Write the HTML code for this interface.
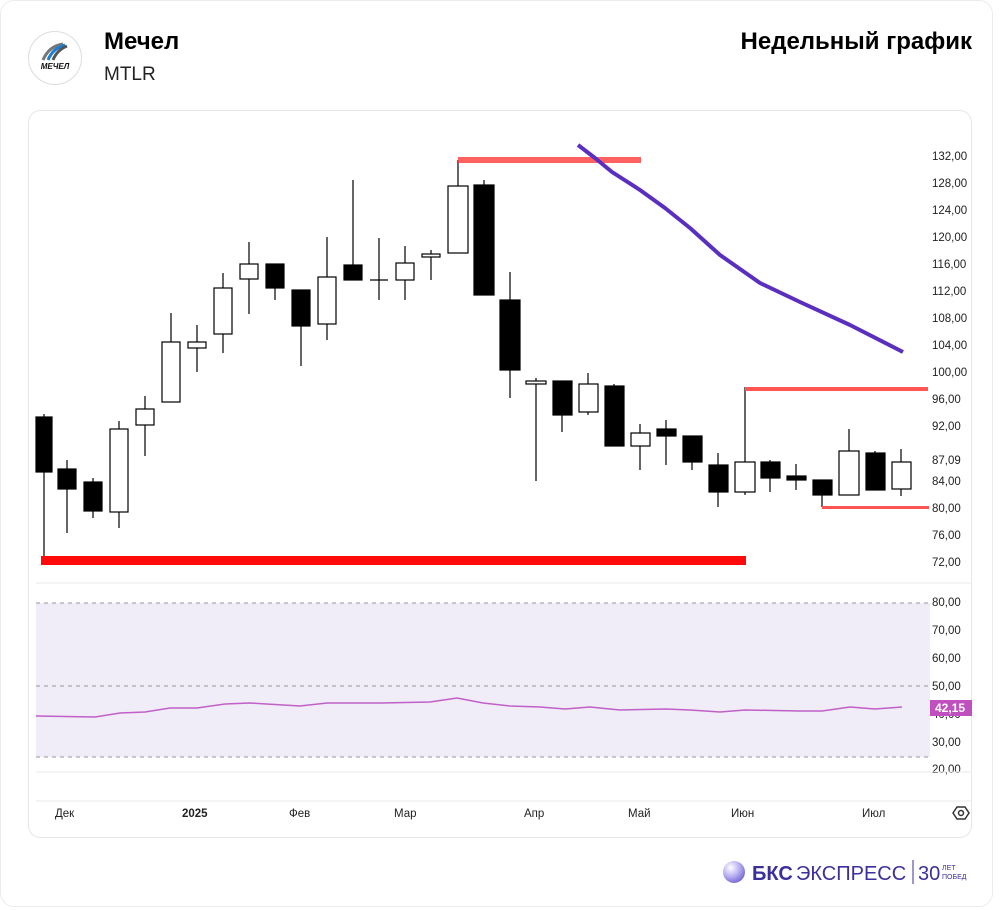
<!DOCTYPE html>
<html><head><meta charset="utf-8"><style>
body{margin:0;width:1000px;height:910px;background:#fff;font-family:"Liberation Sans","DejaVu Sans",sans-serif;overflow:hidden;position:relative}
.outer{position:absolute;left:0;top:0;width:991px;height:905px;border:1px solid #ececec;border-radius:14px;background:#fff}
.t1{position:absolute;left:104px;top:28px;font-size:24px;font-weight:bold;color:#000}
.t2{position:absolute;left:104px;top:64px;font-size:19px;color:#222}
.t3{position:absolute;right:28px;top:28px;font-size:24px;font-weight:bold;color:#000}
.logo{position:absolute;left:28px;top:31px;width:52px;height:52px;border:1px solid #ddd;border-radius:50%;background:#fff}
</style></head><body>
<div class="outer"></div>
<div class="logo"><svg width="52" height="52"><path d="M14 28 Q20 14 34 12" stroke="#777" stroke-width="3" fill="none"/><path d="M19 28 Q24 16 36 13" stroke="#1a7fd4" stroke-width="3" fill="none"/><path d="M24 28 Q28 18 38 14" stroke="#555" stroke-width="3" fill="none"/><text x="26" y="37" font-size="8" font-weight="bold" font-style="italic" text-anchor="middle" fill="#111" font-family="Liberation Sans, sans-serif">МЕЧЕЛ</text></svg></div>
<div class="t1">Мечел</div>
<div class="t2">MTLR</div>
<div class="t3">Недельный график</div>
<svg style="position:absolute;left:0;top:0" width="1000" height="910">
<defs><clipPath id="cp"><rect x="28" y="110" width="944" height="728" rx="12"/></clipPath></defs>
<rect x="28.5" y="110.5" width="943" height="727" rx="12" fill="#fff" stroke="#e6e6e6"/>
<g clip-path="url(#cp)">
<g font-size="11.5" fill="#222" font-family="Liberation Sans, sans-serif">
<text x="932" y="160">132,00</text><text x="932" y="187">128,00</text><text x="932" y="214">124,00</text><text x="932" y="241">120,00</text><text x="932" y="268">116,00</text><text x="932" y="295">112,00</text><text x="932" y="322">108,00</text><text x="932" y="349">104,00</text><text x="932" y="376">100,00</text><text x="932" y="403">96,00</text><text x="932" y="430">92,00</text><text x="932" y="464">87,09</text><text x="932" y="485">84,00</text><text x="932" y="512">80,00</text><text x="932" y="539">76,00</text><text x="932" y="566">72,00</text>
<text x="932" y="606">80,00</text><text x="932" y="634">70,00</text><text x="932" y="662">60,00</text><text x="932" y="690">50,00</text><text x="932" y="746">30,00</text><text x="932" y="773">20,00</text><text x="932" y="718">40,00</text>
</g>
<line x1="36" y1="583" x2="972" y2="583" stroke="#e8e8e8"/>
<line x1="36" y1="772" x2="972" y2="772" stroke="#e8e8e8"/>
<line x1="36" y1="801" x2="972" y2="801" stroke="#e8e8e8"/>
<rect x="36" y="603" width="894" height="154" fill="#f0ecf8"/>
<g stroke="#999" stroke-dasharray="4,4"><line x1="36" y1="603" x2="930" y2="603"/><line x1="36" y1="686" x2="930" y2="686"/><line x1="36" y1="757" x2="930" y2="757"/></g>
<polyline fill="none" stroke="#c060c8" stroke-width="1.5" points="36,716 95,717 120,713 145,712 170,708 197,708 225,704 250,703 300,706 327,703 380,703 430,702 457,698 483,703 510,706 540,707 565,709 590,707 620,710 666,709 690,710 720,712 745,710 800,711 822,711 850,707 875,709 902,707"/>
<rect x="930" y="700" width="42" height="16" fill="#c050c0"/>
<text x="935" y="712" font-size="12" font-weight="bold" fill="#fff">42,15</text>
<g font-size="11.5" fill="#222"><text x="55" y="817">Дек</text><text x="182" y="817" font-weight="bold">2025</text><text x="289" y="817">Фев</text><text x="394" y="817">Мар</text><text x="524" y="817">Апр</text><text x="628" y="817">Май</text><text x="731" y="817">Июн</text><text x="862" y="817">Июл</text></g>
<g transform="translate(961,813)"><path d="M-8 0 L-4 -6 L4 -6 L8 0 L4 6 L-4 6Z" fill="none" stroke="#333" stroke-width="1.5"/><circle r="2.5" fill="none" stroke="#333" stroke-width="1.5"/></g>
</g>
<g stroke="#000" stroke-width="1.2">
<line x1="44" y1="414" x2="44" y2="560"/><rect x="36" y="417" width="16" height="55" fill="#000"/>
<line x1="67" y1="460" x2="67" y2="533"/><rect x="58" y="469" width="18" height="20" fill="#000"/>
<line x1="93" y1="478" x2="93" y2="518"/><rect x="84" y="482" width="18" height="29" fill="#000"/>
<line x1="119" y1="421" x2="119" y2="528"/><rect x="110" y="429" width="18" height="83" fill="#fff"/>
<line x1="145" y1="396" x2="145" y2="456"/><rect x="136" y="409" width="18" height="16" fill="#fff"/>
<line x1="171" y1="313" x2="171" y2="402"/><rect x="162" y="342" width="18" height="60" fill="#fff"/>
<line x1="197" y1="325" x2="197" y2="372"/><rect x="188" y="342" width="18" height="6" fill="#fff"/>
<line x1="223" y1="273" x2="223" y2="353"/><rect x="214" y="288" width="18" height="46" fill="#fff"/>
<line x1="249" y1="242" x2="249" y2="314"/><rect x="240" y="264" width="18" height="15" fill="#fff"/>
<line x1="275" y1="264" x2="275" y2="300"/><rect x="266" y="264" width="18" height="24" fill="#000"/>
<line x1="301" y1="290" x2="301" y2="366"/><rect x="292" y="290" width="18" height="36" fill="#000"/>
<line x1="327" y1="237" x2="327" y2="340"/><rect x="318" y="277" width="18" height="47" fill="#fff"/>
<line x1="353" y1="180" x2="353" y2="280"/><rect x="344" y="265" width="18" height="15" fill="#000"/>
<line x1="379" y1="238" x2="379" y2="300"/><line x1="370" y1="280" x2="388" y2="280"/>
<line x1="405" y1="246" x2="405" y2="300"/><rect x="396" y="263" width="18" height="17" fill="#fff"/>
<line x1="431" y1="250" x2="431" y2="280"/><rect x="422" y="254" width="18" height="3" fill="#fff"/>
<line x1="458" y1="160" x2="458" y2="253"/><rect x="448" y="186" width="20" height="67" fill="#fff"/>
<line x1="484" y1="180" x2="484" y2="295"/><rect x="474" y="185" width="20" height="110" fill="#000"/>
<line x1="510" y1="272" x2="510" y2="398"/><rect x="500" y="300" width="20" height="70" fill="#000"/>
<line x1="536" y1="378" x2="536" y2="481"/><rect x="526" y="381" width="20" height="3" fill="#fff"/>
<line x1="562" y1="381" x2="562" y2="432"/><rect x="553" y="381" width="19" height="34" fill="#000"/>
<line x1="588" y1="373" x2="588" y2="415"/><rect x="579" y="384" width="19" height="28" fill="#fff"/>
<line x1="614" y1="384" x2="614" y2="446"/><rect x="605" y="386" width="19" height="60" fill="#000"/>
<line x1="640" y1="424" x2="640" y2="470"/><rect x="631" y="433" width="19" height="13" fill="#fff"/>
<line x1="666" y1="420" x2="666" y2="465"/><rect x="657" y="429" width="19" height="7" fill="#000"/>
<line x1="692" y1="436" x2="692" y2="470"/><rect x="683" y="436" width="19" height="26" fill="#000"/>
<line x1="718" y1="453" x2="718" y2="507"/><rect x="709" y="465" width="19" height="27" fill="#000"/>
<line x1="745" y1="387" x2="745" y2="495"/><rect x="735" y="462" width="20" height="30" fill="#fff"/>
<line x1="770" y1="460" x2="770" y2="492"/><rect x="761" y="462" width="19" height="16" fill="#000"/>
<line x1="796" y1="464" x2="796" y2="490"/><rect x="787" y="476" width="19" height="4" fill="#000"/>
<line x1="822" y1="480" x2="822" y2="507"/><rect x="813" y="480" width="19" height="15" fill="#000"/>
<line x1="849" y1="429" x2="849" y2="495"/><rect x="839" y="451" width="20" height="44" fill="#fff"/>
<line x1="875" y1="451" x2="875" y2="490"/><rect x="866" y="453" width="19" height="37" fill="#000"/>
<line x1="901" y1="449" x2="901" y2="496"/><rect x="892" y="462" width="19" height="27" fill="#fff"/>
</g>
<rect x="41" y="556" width="705" height="9" fill="#ff0a0a"/>
<rect x="458" y="157" width="183" height="6" fill="#ff4545" opacity="0.85"/>
<rect x="745" y="387" width="183" height="4" fill="#f55"/>
<rect x="822" y="506" width="107" height="3" fill="#f55"/>
<polyline fill="none" stroke="#5a2fc0" stroke-width="4" stroke-linejoin="round" points="578,145 595,158 612,172 640,190 665,208 690,228 720,255 760,283 800,302 850,325 903,352"/>
<defs><radialGradient id="g" cx="0.35" cy="0.3" r="0.8"><stop offset="0" stop-color="#fff"/><stop offset="0.5" stop-color="#b8b0f0"/><stop offset="1" stop-color="#6a5ad0"/></radialGradient></defs>
<circle cx="734" cy="872" r="11" fill="url(#g)"/>
<text x="752" y="880" font-size="20" font-weight="bold" fill="#3b2f9c">БКС</text>
<text x="796" y="880" font-size="20" fill="#3b2f9c">ЭКСПРЕСС</text>
<line x1="913" y1="860" x2="913" y2="884" stroke="#3b2f9c"/>
<text x="918" y="880" font-size="20" fill="#3b2f9c">30</text>
<text x="942" y="870" font-size="7" fill="#3b2f9c">ЛЕТ</text>
<text x="942" y="879" font-size="7" fill="#3b2f9c">ПОБЕД</text>
</svg>
</body></html>
